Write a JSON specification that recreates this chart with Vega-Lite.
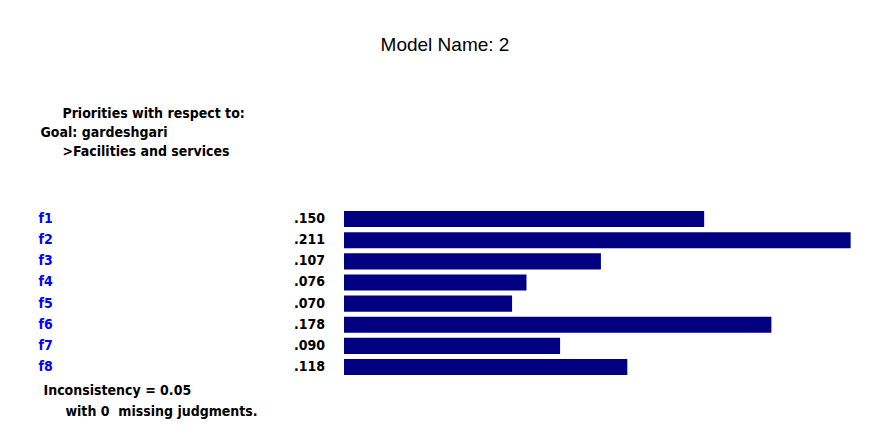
{
  "$schema": "https://vega.github.io/schema/vega-lite/v6.json",
  "width": 534,
  "height": 169.1,
  "autosize": {"type": "none"},
  "padding": {"left": 344, "top": 208.5, "right": 0, "bottom": 56.4},
  "background": "white",
  "title": {
    "text": "Model Name: 2",
    "anchor": "middle",
    "dx": -166,
    "offset": 36,
    "baseline": "alphabetic",
    "font": "Liberation Sans",
    "fontSize": 19,
    "fontWeight": "normal",
    "color": "black"
  },
  "data": {
    "values": [
      {"factor": "f1", "priority": 0.150, "label": ".150"},
      {"factor": "f2", "priority": 0.211, "label": ".211"},
      {"factor": "f3", "priority": 0.107, "label": ".107"},
      {"factor": "f4", "priority": 0.076, "label": ".076"},
      {"factor": "f5", "priority": 0.070, "label": ".070"},
      {"factor": "f6", "priority": 0.178, "label": ".178"},
      {"factor": "f7", "priority": 0.090, "label": ".090"},
      {"factor": "f8", "priority": 0.118, "label": ".118"}
    ]
  },
  "encoding": {
    "y": {
      "field": "factor",
      "type": "nominal",
      "sort": null,
      "scale": {"paddingInner": 0.24, "paddingOuter": 0.12},
      "axis": {
        "title": ["\u200b\u00a0\u00a0\u00a0\u00a0\u00a0Priorities with respect to:", "Goal: gardeshgari", "\u200b\u00a0\u00a0\u00a0\u00a0\u00a0>Facilities and services"],
        "titleAngle": 0,
        "titleAlign": "left",
        "titleBaseline": "alphabetic",
        "titleX": -304,
        "titleY": -91.5,
        "titleLineHeight": 19,
        "titleFont": "DejaVu Sans Condensed, DejaVu Sans",
        "titleFontSize": 14,
        "titleFontWeight": "bold",
        "titleColor": "black",
        "labelAlign": "left",
        "labelBaseline": "middle",
        "labelPadding": 306,
        "ticks": false,
        "tickSize": 0,
        "domain": false,
        "grid": false,
        "labelFont": "DejaVu Sans Condensed, DejaVu Sans",
        "labelFontSize": 14,
        "labelFontWeight": "bold",
        "labelColor": "#0000ff"
      }
    }
  },
  "layer": [
    {
      "mark": {"type": "bar", "color": "#000080"},
      "encoding": {
        "x": {
          "field": "priority",
          "type": "quantitative",
          "scale": {"domain": [0, 0.2224], "nice": false, "zero": true},
          "axis": {
            "title": ["Inconsistency = 0.05", "\u200b\u00a0\u00a0\u00a0\u00a0\u00a0with 0\u00a0\u00a0missing judgments."],
            "titleAlign": "left",
            "titleBaseline": "alphabetic",
            "titleX": -301,
            "titleY": 16.4,
            "titleLineHeight": 21,
            "titleFont": "DejaVu Sans Condensed, DejaVu Sans",
            "titleFontSize": 14,
            "titleFontWeight": "bold",
            "titleColor": "black",
            "labels": false,
            "ticks": false,
            "domain": false,
            "grid": false
          }
        }
      }
    },
    {
      "mark": {
        "type": "text",
        "align": "right",
        "baseline": "middle",
        "dx": -19,
        "font": "DejaVu Sans Condensed, DejaVu Sans",
        "fontSize": 14,
        "fontWeight": "bold",
        "color": "black"
      },
      "encoding": {
        "x": {"datum": 0},
        "text": {"field": "label"}
      }
    }
  ],
  "config": {"view": {"stroke": null}}
}
